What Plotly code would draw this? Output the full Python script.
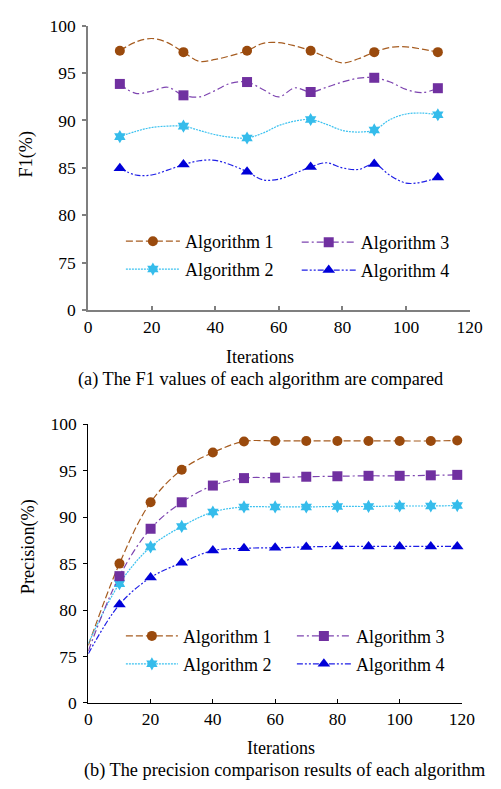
import plotly.graph_objects as go

W, H = 501, 789
FONT = "Liberation Serif, Times New Roman, serif"

# ---------------- data: (a) F1 ----------------
ITER_F1 = [10, 30, 50, 70, 90, 110]
F1_ALG1 = [97.35, 97.2, 97.35, 97.35, 97.2, 97.2]
F1_ALG2 = [88.3, 89.4, 88.15, 90.1, 89.0, 90.6]
F1_ALG3 = [93.85, 92.65, 94.05, 93.0, 94.5, 93.4]
F1_ALG4 = [84.95, 85.35, 84.6, 85.1, 85.4, 84.0]
# smoothed-curve readings between markers (at +5, +10, +15 of each gap)
F1_MID_OFFSETS = [5, 10, 15]
F1_ALG1_MID = [98.27, 98.64, 98.2, 96.23, 96.43, 96.84, 98.13, 98.2, 97.86,
               96.67, 96.06, 96.5, 97.69, 97.76, 97.52]
F1_ALG2_MID = [88.85, 89.26, 89.4, 88.95, 88.5, 88.23, 88.67, 89.46, 89.93,
               89.59, 88.95, 88.78, 90.1, 90.68, 90.78]
F1_ALG3_MID = [92.86, 93.1, 93.5, 92.48, 93.16, 93.94, 93.27, 92.48, 93.44,
               93.5, 94.05, 94.46, 94.05, 93.27, 92.93]
F1_ALG4_MID = [84.25, 84.25, 84.76, 85.75, 85.8, 85.3, 83.74, 83.81, 84.42,
               85.54, 85.0, 84.83, 84.2, 83.4, 83.5]

# ---------------- data: (b) Precision ----------------
ITER_P = [10, 20, 30, 40, 50, 60, 70, 80, 90, 100, 110, 118.5]
P_START_X = 0
P_ALG1 = [85.0, 91.6, 95.1, 96.95, 98.15, 98.2, 98.2, 98.2, 98.2, 98.2, 98.2, 98.25]
P_ALG2 = [82.85, 86.8, 89.0, 90.55, 91.1, 91.1, 91.1, 91.15, 91.15, 91.2, 91.2, 91.25]
P_ALG3 = [83.65, 88.75, 91.6, 93.4, 94.2, 94.25, 94.35, 94.4, 94.45, 94.45, 94.5, 94.55]
P_ALG4 = [80.6, 83.5, 85.1, 86.4, 86.65, 86.7, 86.8, 86.85, 86.85, 86.85, 86.85, 86.85]
P_START = {"Algorithm 1": 76.2, "Algorithm 2": 76.4, "Algorithm 3": 75.6, "Algorithm 4": 75.3}

NAMES = ["Algorithm 1", "Algorithm 2", "Algorithm 3", "Algorithm 4"]
Y_TICKVALS = [70, 75, 80, 85, 90, 95, 100]
Y_TICKTEXT = ["0", "75", "80", "85", "90", "95", "100"]
X_TICKVALS = [0, 20, 40, 60, 80, 100, 120]

STYLE = {
    "Algorithm 1": dict(mc="#9A4A0D", lc="#A65C20", sym="circle", ms=10, dash="7px,3px"),
    "Algorithm 2": dict(mc="#35BCEB", lc="#3CC2F0", sym="hexagram", ms=10, dash="2px,1px"),
    "Algorithm 3": dict(mc="#7030A0", lc="#7D44B0", sym="square", ms=10, dash="7px,3px,2px,3px"),
    "Algorithm 4": dict(mc="#0000D8", lc="#1F1FE6", sym="triangle-up", ms=11, dash="6px,2px,2px,2px,2px,2px"),
}


def merge_curve(xs, ys, mids, offs):
    cx, cy = [], []
    n = len(offs)
    for i in range(len(xs)):
        cx.append(xs[i]); cy.append(ys[i])
        if i < len(xs) - 1:
            for j, o in enumerate(offs):
                cx.append(xs[i] + o); cy.append(mids[i * n + j])
    return cx, cy


fig = go.Figure()

f1_data = {"Algorithm 1": (F1_ALG1, F1_ALG1_MID), "Algorithm 2": (F1_ALG2, F1_ALG2_MID),
           "Algorithm 3": (F1_ALG3, F1_ALG3_MID), "Algorithm 4": (F1_ALG4, F1_ALG4_MID)}
p_data = {"Algorithm 1": P_ALG1, "Algorithm 2": P_ALG2, "Algorithm 3": P_ALG3, "Algorithm 4": P_ALG4}

legend_of = {("a", "Algorithm 1"): "legend", ("a", "Algorithm 2"): "legend",
             ("a", "Algorithm 3"): "legend2", ("a", "Algorithm 4"): "legend2",
             ("b", "Algorithm 1"): "legend3", ("b", "Algorithm 2"): "legend3",
             ("b", "Algorithm 3"): "legend4", ("b", "Algorithm 4"): "legend4"}

for panel, xa, ya in [("a", "x", "y"), ("b", "x2", "y2")]:
    for name in NAMES:
        s = STYLE[name]
        if panel == "a":
            ys, mids = f1_data[name]
            mx, my = ITER_F1, ys
            cx, cy = merge_curve(ITER_F1, ys, mids, F1_MID_OFFSETS)
        else:
            mx, my = ITER_P, p_data[name]
            cx, cy = [P_START_X] + ITER_P, [P_START[name]] + p_data[name]
        fig.add_trace(go.Scatter(x=cx, y=cy, xaxis=xa, yaxis=ya, mode="lines",
                                 line=dict(color=s["lc"], width=1.2, dash=s["dash"], shape="spline", smoothing=1),
                                 showlegend=False, hoverinfo="skip"))
        fig.add_trace(go.Scatter(x=mx, y=my, xaxis=xa, yaxis=ya, mode="markers",
                                 marker=dict(color=s["mc"], symbol=s["sym"], size=s["ms"], line=dict(width=0)),
                                 showlegend=False, cliponaxis=False))
        fig.add_trace(go.Scatter(x=[None], y=[None], xaxis=xa, yaxis=ya, mode="lines+markers", name=name,
                                 line=dict(color=s["lc"], width=1.2, dash=s["dash"]),
                                 marker=dict(color=s["mc"], symbol=s["sym"], size=s["ms"], line=dict(width=0)),
                                 legend=legend_of[(panel, name)], legendgroup=panel + name))


def px(x):
    return x / W


def py(y):
    return 1 - y / H


tickfont = dict(family=FONT, size=17.5, color="black")
common_x = dict(range=[0, 120], tickvals=X_TICKVALS, ticks="inside", ticklen=4, showline=True,
                showgrid=False, zeroline=False, tickfont=tickfont, fixedrange=True)
common_y = dict(range=[70, 100], tickvals=Y_TICKVALS, ticktext=Y_TICKTEXT, ticks="outside", ticklen=4,
                showline=True, showgrid=False, zeroline=False, tickfont=tickfont, fixedrange=True,
                ticklabelstandoff=3)

fig.update_layout(
    xaxis=dict(domain=[px(87), px(482)], anchor="y", linecolor="#7F7F7F", linewidth=1.8, tickcolor="#7F7F7F",
               tickwidth=1.5, **common_x),
    yaxis=dict(domain=[py(308), py(16)], anchor="x", linecolor="#7F7F7F", linewidth=1.8, tickcolor="#7F7F7F",
               tickwidth=1.5, **common_y),
    xaxis2=dict(domain=[px(87.3), px(474)], anchor="y2", linecolor="black", linewidth=1.3, tickcolor="black",
                tickwidth=1.2, **common_x),
    yaxis2=dict(domain=[py(711), py(425)], anchor="x2", linecolor="black", linewidth=1.3, tickcolor="black",
                tickwidth=1.2, **common_y),
    width=W, height=H, margin=dict(l=0, r=0, t=0, b=0),
    paper_bgcolor="white", plot_bgcolor="white",
    font=dict(family=FONT, size=17.5, color="black"),
)

leg_common = dict(font=dict(family=FONT, size=18, color="black"), bgcolor="rgba(0,0,0,0)",
                  borderwidth=0, xanchor="left", yanchor="top", orientation="v",
                  traceorder="grouped", tracegroupgap=1.5)
fig.update_layout(
    legend=dict(x=px(121), y=py(218.5), itemwidth=54, **leg_common),
    legend2=dict(x=px(303), y=py(219.5), itemwidth=54, **leg_common),
    legend3=dict(x=px(121), y=py(623.5), itemwidth=52, **leg_common),
    legend4=dict(x=px(298), y=py(623.5), itemwidth=54, **leg_common),
)

ann = [
    ("Iterations", 265, 356, 0, 18),
    ("(a) The F1 values of each algorithm are compared", 265, 379, 0, 18.3),
    ("Iterations", 287, 757.5, 0, 18),
    ("(b) The precision comparison results of each algorithm", 290, 780.5, 0, 18.3),
    ("F1(%)", 23, 148, -90, 18.2),
    ("Precision(%)", 25, 551, -90, 18.2),
]
for text, x, y, ang, fs in ann:
    fig.add_annotation(text=text, x=px(x), y=py(y), xref="paper", yref="paper", showarrow=False,
                       xanchor="center", yanchor="middle", textangle=ang,
                       font=dict(family=FONT, size=fs, color="black"))

fig.write_html("out.html")
